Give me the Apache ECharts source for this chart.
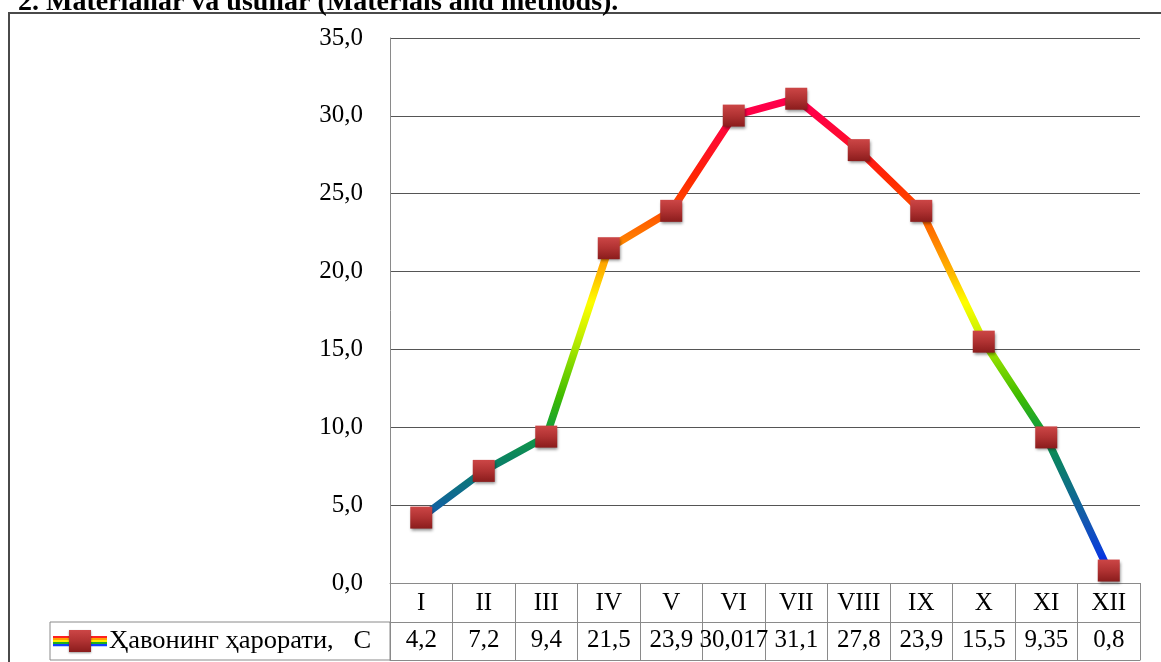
<!DOCTYPE html>
<html>
<head>
<meta charset="utf-8">
<script src="https://cdn.jsdelivr.net/npm/echarts@6/dist/echarts.min.js"></script>
<style>
html,body{margin:0;padding:0;background:#fff;}
#chart{width:1161px;height:662px;}
</style>
</head>
<body>
<div id="chart"></div>
<script>
const months = ['I','II','III','IV','V','VI','VII','VIII','IX','X','XI','XII'];
const temps = [4.2, 7.2, 9.4, 21.5, 23.9, 30.017, 31.1, 27.8, 23.9, 15.5, 9.35, 0.8];
const tempLabels = ['4,2','7,2','9,4','21,5','23,9','30,017','31,1','27,8','23,9','15,5','9,35','0,8'];
const seriesName = 'Ҳавонинг ҳарорати,   С';
const titleText = '2. Materiallar va usullar (Materials and methods).';

const FONT = '"Liberation Serif", "Times New Roman", serif';
const GRID = {left: 390, right: 21, top: 38, bottom: 79};
const ROW1 = 39, ROW2 = 38;
const lineGray = '#8a8a8a';

const chart = echarts.init(document.getElementById('chart'), null, {renderer: 'canvas'});

const markerFill = new echarts.graphic.LinearGradient(0, 0, 0, 1, [
  {offset: 0, color: '#cc4646'},
  {offset: 0.5, color: '#b03232'},
  {offset: 1, color: '#8a1c1c'}
]);

const option = {
  animation: false,
  backgroundColor: '#ffffff',
  textStyle: {fontFamily: FONT},
  grid: GRID,
  visualMap: {
    show: false,
    type: 'continuous',
    seriesIndex: 0,
    dimension: 1,
    min: 0,
    max: 32,
    inRange: {
      color: ['#0000ff','#0a3fd8','#1458b0','#0e6e88','#0b8460','#14a038','#40bc00','#80d800',
              '#c8f000','#ffff00','#ffb400','#ff8000','#ff4c00','#ff2800','#ff1028','#ff0044','#ff0052']
    }
  },
  xAxis: [
    {
      type: 'category', data: months, boundaryGap: true, position: 'bottom',
      axisLine: {show: true, lineStyle: {color: lineGray, width: 1}},
      axisTick: {show: true, interval: 0, length: ROW1 + ROW2, lineStyle: {color: lineGray}},
      axisLabel: {interval: 0, margin: 8, color: '#000', fontSize: 25, fontFamily: FONT},
      splitLine: {show: false}
    },
    {
      type: 'category', data: tempLabels, boundaryGap: true, position: 'bottom', offset: ROW1,
      axisLine: {show: true, lineStyle: {color: lineGray, width: 1}},
      axisTick: {show: false},
      axisLabel: {interval: 0, margin: 6, color: '#000', fontSize: 25, fontFamily: FONT},
      splitLine: {show: false}
    },
    {
      type: 'category', data: months, boundaryGap: true, position: 'bottom', offset: ROW1 + ROW2,
      axisLine: {show: true, lineStyle: {color: lineGray, width: 1}},
      axisTick: {show: false},
      axisLabel: {show: false},
      splitLine: {show: false}
    }
  ],
  yAxis: {
    type: 'value', min: 0, max: 35, interval: 5,
    axisLine: {show: true, lineStyle: {color: lineGray, width: 1}},
    axisTick: {show: false},
    axisLabel: {
      margin: 27, color: '#000', fontSize: 25, fontFamily: FONT,
      formatter: v => v.toFixed(1).replace('.', ',')
    },
    splitLine: {show: true, lineStyle: {color: '#555555', width: 1}}
  },
  series: [
    {
      name: seriesName + ' line',
      type: 'line',
      data: temps,
      showSymbol: false,
      symbol: 'none',
      lineStyle: {width: 7.5, cap: 'round', join: 'round'},
      z: 2
    },
    {
      name: seriesName,
      type: 'line',
      data: temps,
      symbol: 'rect',
      symbolSize: 22,
      lineStyle: {width: 0, opacity: 0},
      itemStyle: {
        color: markerFill,
        shadowBlur: 3, shadowColor: 'rgba(0,0,0,0.45)', shadowOffsetX: 1, shadowOffsetY: 2
      },
      z: 3
    }
  ]
};
chart.setOption(option);

// legend cell of the data table, positioned from the axis pixel geometry
const x0 = chart.convertToPixel({xAxisIndex: 0}, months[0]);
const colW = chart.convertToPixel({xAxisIndex: 0}, months[1]) - x0;
const tableLeft = x0 - colW / 2;
const tableTop = chart.convertToPixel({yAxisIndex: 0}, 0);
const rowTop = tableTop + ROW1;
const cellLeft = 50;
const cy = rowTop + ROW2 / 2;
const stripeColors = ['#ff2020','#ffa000','#ffee00','#20b020','#1040ff'];
const iconX = cellLeft + 3, iconW = 54, stripeH = 2;
const stripes = stripeColors.map((c, i) => ({
  type: 'rect', silent: true,
  shape: {x: iconX, y: cy - stripeH * 2.5 + i * stripeH, width: iconW, height: stripeH + 0.3},
  style: {fill: c}
}));

chart.setOption({
  graphic: [
    {
      type: 'rect', silent: true,
      shape: {x: 9, y: 13, width: 1200, height: 700},
      style: {fill: 'none', stroke: '#4a4a4a', lineWidth: 2}
    },
    {
      type: 'text', silent: true, z: 10,
      style: {x: 18, y: 17, text: titleText, fill: '#000', font: 'bold 28px ' + FONT,
              textAlign: 'left', textVerticalAlign: 'bottom'}
    },
    {
      type: 'rect', silent: true,
      shape: {x: cellLeft, y: rowTop, width: tableLeft - cellLeft, height: ROW2},
      style: {fill: 'none', stroke: lineGray, lineWidth: 1}
    },
    ...stripes,
    {
      type: 'rect', silent: true,
      shape: {x: iconX + iconW / 2 - 11, y: cy - 11, width: 22, height: 22},
      style: {fill: markerFill, shadowBlur: 2, shadowColor: 'rgba(0,0,0,0.4)', shadowOffsetY: 1}
    },
    {
      type: 'text', silent: true,
      x: iconX + iconW + 2, y: cy, scaleX: 1.06,
      style: {x: 0, y: 0, text: seriesName, fill: '#000', font: '25px ' + FONT,
              textAlign: 'left', textVerticalAlign: 'middle'}
    }
  ]
});
</script>
</body>
</html>
